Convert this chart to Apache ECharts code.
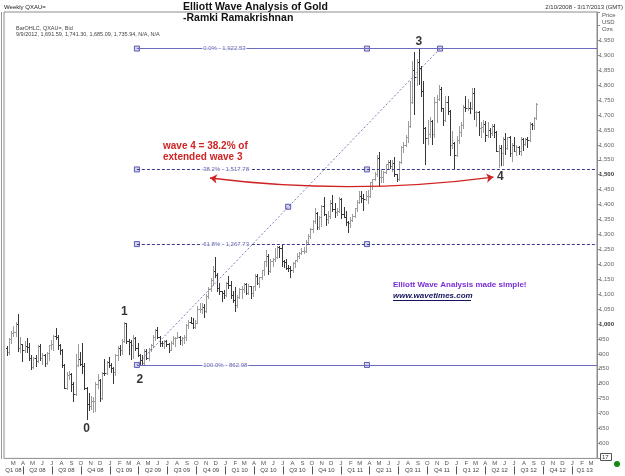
<!DOCTYPE html>
<html>
<head>
<meta charset="utf-8">
<script src="https://cdn.jsdelivr.net/npm/echarts@6/dist/echarts.min.js"></script>
<style>
  html, body { margin: 0; padding: 0; background: #fff; }
  #chart { width: 625px; height: 476px; }
</style>
</head>
<body>
<div id="chart"></div>
<script>
// weekly bars [open, high, low, close], one per week from firstWeek
const firstWeek = '2008-02-10';
const bars2008 = [
  [920, 928, 895, 906], [906, 953, 900, 949], [949, 976, 937, 971], [971, 993, 961, 972],
  [972, 1006, 960, 1001], [1001, 1032, 911, 920], [920, 958, 907, 932], [932, 934, 875, 913],
  [913, 943, 906, 925], [925, 954, 905, 924], [924, 937, 880, 886], [886, 895, 851, 856],
  [856, 889, 853, 886], [886, 895, 858, 877], [877, 930, 873, 925], [925, 932, 878, 886],
  [886, 903, 866, 897], [897, 899, 860, 870], [870, 908, 867, 904], [904, 931, 880, 929],
  [929, 945, 917, 932], [932, 964, 914, 960], [960, 988, 949, 958], [958, 962, 918, 930],
  [930, 932, 900, 912], [912, 915, 855, 864], [864, 866, 786, 787], [787, 838, 781, 830],
  [830, 844, 817, 833], [833, 835, 775, 799], [799, 806, 741, 765], [765, 900, 763, 863],
  [863, 932, 858, 884], [884, 906, 862, 865], [865, 936, 835, 860], [860, 868, 782, 786],
  [786, 790, 681, 733], [733, 769, 712, 725], [725, 760, 715, 741], [741, 754, 706, 742],
  [742, 805, 710, 800], [800, 831, 786, 814], [814, 816, 741, 752], [752, 840, 750, 837],
  [837, 882, 830, 836], [836, 876, 832, 874], [874, 888, 857, 863]
];
const bars2009 = [
  [863, 868, 838, 853], [853, 856, 802, 838], [838, 900, 829, 897], [897, 927, 878, 919],
  [919, 929, 895, 913], [913, 950, 900, 943], [943, 1007, 940, 1002], [1002, 1005, 935, 942],
  [942, 950, 901, 940], [940, 945, 883, 930], [930, 963, 885, 953], [953, 958, 912, 920],
  [920, 935, 892, 895], [895, 898, 865, 880], [880, 897, 866, 870], [870, 918, 865, 910],
  [910, 918, 884, 886], [886, 921, 880, 916], [916, 933, 910, 930], [930, 962, 922, 955],
  [955, 982, 945, 979], [979, 990, 954, 958], [958, 961, 925, 937], [937, 944, 925, 935],
  [935, 945, 920, 942], [942, 946, 925, 933], [933, 935, 905, 913], [913, 942, 912, 938],
  [938, 960, 934, 953], [953, 958, 926, 954], [954, 972, 952, 956], [956, 959, 933, 947],
  [947, 956, 930, 952], [952, 964, 935, 955], [955, 1000, 948, 996], [996, 1012, 987, 1006],
  [1006, 1025, 1002, 1003], [1003, 1019, 987, 991], [991, 1012, 986, 1004], [1004, 1062, 1003, 1050],
  [1050, 1070, 1041, 1051], [1051, 1070, 1036, 1056], [1056, 1066, 1023, 1045], [1045, 1100, 1040, 1095],
  [1095, 1123, 1087, 1118], [1118, 1154, 1112, 1146], [1146, 1196, 1132, 1176], [1176, 1226, 1159, 1163],
  [1163, 1170, 1112, 1120], [1120, 1138, 1102, 1110], [1110, 1112, 1076, 1105], [1105, 1113, 1087, 1096]
];
const bars2010 = [
  [1096, 1140, 1094, 1138], [1138, 1162, 1120, 1131], [1131, 1144, 1086, 1098], [1098, 1110, 1074, 1081],
  [1081, 1123, 1045, 1064], [1064, 1098, 1058, 1092], [1092, 1122, 1086, 1118], [1118, 1127, 1087, 1118],
  [1118, 1138, 1108, 1134], [1134, 1137, 1102, 1104], [1104, 1133, 1100, 1126], [1126, 1128, 1088, 1104],
  [1104, 1128, 1095, 1126], [1126, 1166, 1113, 1161], [1161, 1169, 1133, 1137], [1137, 1159, 1125, 1156],
  [1156, 1181, 1150, 1180], [1180, 1212, 1165, 1210], [1210, 1249, 1196, 1228], [1228, 1235, 1166, 1177],
  [1177, 1217, 1175, 1212], [1212, 1222, 1195, 1217], [1217, 1254, 1210, 1226], [1226, 1263, 1221, 1258],
  [1258, 1261, 1224, 1256], [1256, 1265, 1195, 1210], [1210, 1215, 1190, 1208], [1208, 1218, 1185, 1189],
  [1189, 1199, 1176, 1188], [1188, 1195, 1157, 1181], [1181, 1208, 1175, 1203], [1203, 1216, 1192, 1215],
  [1215, 1237, 1212, 1228], [1228, 1242, 1222, 1237], [1237, 1253, 1234, 1246], [1246, 1258, 1239, 1246],
  [1246, 1283, 1240, 1275], [1275, 1302, 1270, 1296], [1296, 1320, 1289, 1318], [1318, 1350, 1308, 1345],
  [1345, 1387, 1340, 1372], [1372, 1374, 1319, 1325], [1325, 1361, 1319, 1358], [1358, 1398, 1329, 1394],
  [1394, 1424, 1364, 1368], [1368, 1370, 1330, 1353], [1353, 1379, 1339, 1362], [1362, 1414, 1356, 1406],
  [1406, 1431, 1378, 1385], [1385, 1407, 1357, 1375], [1375, 1389, 1365, 1380], [1380, 1424, 1375, 1420]
];
const bars2011 = [
  [1420, 1423, 1355, 1369], [1369, 1393, 1359, 1360], [1360, 1378, 1330, 1342], [1342, 1345, 1309, 1340],
  [1340, 1360, 1326, 1349], [1349, 1368, 1344, 1361], [1361, 1390, 1357, 1388], [1388, 1415, 1380, 1409],
  [1409, 1445, 1405, 1428], [1428, 1444, 1408, 1421], [1421, 1437, 1381, 1418], [1418, 1447, 1416, 1429],
  [1429, 1448, 1407, 1429], [1429, 1476, 1425, 1475], [1475, 1487, 1453, 1486], [1486, 1510, 1483, 1504],
  [1504, 1566, 1496, 1556], [1556, 1575, 1462, 1491], [1491, 1520, 1476, 1492], [1492, 1513, 1477, 1510],
  [1510, 1537, 1506, 1536], [1536, 1549, 1522, 1542], [1542, 1549, 1522, 1529], [1529, 1549, 1511, 1540],
  [1540, 1558, 1496, 1502], [1502, 1503, 1478, 1486], [1486, 1545, 1484, 1542], [1542, 1595, 1540, 1592],
  [1592, 1610, 1576, 1601], [1601, 1632, 1597, 1628], [1628, 1681, 1610, 1663], [1663, 1814, 1660, 1743],
  [1743, 1881, 1739, 1852], [1852, 1912, 1705, 1828], [1828, 1886, 1801, 1876], [1876, 1921, 1804, 1857],
  [1857, 1863, 1765, 1780], [1780, 1813, 1605, 1657], [1657, 1660, 1535, 1622], [1622, 1682, 1603, 1635],
  [1635, 1695, 1627, 1680], [1680, 1683, 1603, 1637], [1637, 1761, 1626, 1745], [1745, 1766, 1676, 1753],
  [1753, 1802, 1749, 1788], [1788, 1795, 1714, 1724], [1724, 1725, 1667, 1683], [1683, 1764, 1680, 1745],
  [1745, 1764, 1703, 1713], [1713, 1718, 1565, 1598], [1598, 1645, 1590, 1606], [1606, 1608, 1523, 1565]
];
const bars2012 = [
  [1565, 1630, 1564, 1617], [1617, 1662, 1606, 1642], [1642, 1675, 1629, 1665], [1665, 1734, 1658, 1727],
  [1727, 1763, 1713, 1725], [1725, 1753, 1717, 1725], [1725, 1744, 1706, 1723], [1723, 1790, 1720, 1775],
  [1775, 1792, 1688, 1710], [1710, 1714, 1664, 1711], [1711, 1713, 1634, 1657], [1657, 1675, 1627, 1660],
  [1660, 1682, 1644, 1669], [1669, 1680, 1612, 1632], [1632, 1677, 1628, 1651], [1651, 1658, 1626, 1641],
  [1641, 1669, 1634, 1663], [1663, 1670, 1625, 1643], [1643, 1645, 1578, 1580], [1580, 1598, 1527, 1591],
  [1591, 1600, 1533, 1572], [1572, 1628, 1532, 1621], [1621, 1640, 1570, 1590], [1590, 1628, 1587, 1627],
  [1627, 1630, 1562, 1573], [1573, 1605, 1547, 1601], [1601, 1627, 1578, 1581], [1581, 1600, 1566, 1592],
  [1592, 1596, 1569, 1580], [1580, 1628, 1565, 1620], [1620, 1624, 1582, 1603], [1603, 1624, 1598, 1619],
  [1619, 1625, 1592, 1616], [1616, 1675, 1612, 1671], [1671, 1674, 1653, 1666], [1666, 1692, 1652, 1691.59],
  [1691.59, 1741.30, 1685.09, 1735.94]
];

// axis range and tick labels
const axisStart = '2008-02-01';
const axisEnd = '2013-03-20';
const monthLetters = ['J', 'F', 'M', 'A', 'M', 'J', 'J', 'A', 'S', 'O', 'N', 'D'];
const quarterLabels = [
  'Q1 08', 'Q2 08', 'Q3 08', 'Q4 08', 'Q1 09', 'Q2 09', 'Q3 09', 'Q4 09',
  'Q1 10', 'Q2 10', 'Q3 10', 'Q4 10', 'Q1 11', 'Q2 11', 'Q3 11', 'Q4 11',
  'Q1 12', 'Q2 12', 'Q3 12', 'Q4 12', 'Q1 13'
];
const priceMin = 550, priceMax = 2045, priceStep = 50;

// fibonacci retracement drawing
const fibPercents = ['0.0%', '38.2%', '61.8%', '100.0%'];
const fibPrices = [1922.53, 1517.78, 1267.73, 862.98];
const fibFrom = '2009-03-27';
const fibMid = '2011-03-24';
const fibLabelAt = '2009-10-18';
const trendFrom = ['2009-03-27', 862.98];
const trendMid = ['2010-07-18', 1392.75];
const trendTo = ['2011-11-10', 1922.53];

// elliott wave counts
const waveNames = ['0', '1', '2', '3', '4'];
const wavePoints = [['2008-10-19', 681], ['2009-02-15', 1007], ['2009-04-05', 865], ['2011-09-04', 1921], ['2012-04-27', 1492]];
const arrowEnds = [['2009-11-13', 1489], ['2012-04-27', 1492]];

const DAY = 86400000;
const toTime = s => {
  const p = s.split('-').map(Number);
  return Date.UTC(p[0], p[1] - 1, p[2]);
};

const weeklyBars = bars2008.concat(bars2009, bars2010, bars2011, bars2012);
const weeklyData = weeklyBars.map((b, i) => [toTime(firstWeek) + i * 7 * DAY, b[0], b[1], b[2], b[3]]);

const monthStarts = [];
for (let y = 2008; y <= 2013; y++) {
  for (let m = 0; m < 12; m++) {
    const v = Date.UTC(y, m, 1);
    if (v > toTime(axisStart) && v < toTime(axisEnd)) monthStarts.push(v);
  }
}
const quarterStarts = monthStarts.filter(v => new Date(v).getUTCMonth() % 3 === 0);
const bounds = [toTime(axisStart)].concat(quarterStarts, [toTime(axisEnd)]);
const quarterMids = quarterLabels.map((_, i) => Math.round((bounds[i] + bounds[i + 1]) / 2));

const font = 'Liberation Sans, Arial, sans-serif';
const fmtPrice = v => {
  const s = String(v);
  return s.length > 3 ? s.slice(0, s.length - 3) + ',' + s.slice(-3) : s;
};
const fmtFib = v => v.toLocaleString('en-US', { minimumFractionDigits: 2 });
const hidden = 'rgba(0,0,0,0)';

function renderOhlc(params, api) {
  const t = api.value(0);
  const x = Math.round(api.coord([t, 0])[0]) + 0.5;
  const py = v => Math.round(api.coord([t, v])[1]) + 0.5;
  const up = api.value(4) >= api.value(1);
  const style = { stroke: up ? '#9c9c9c' : '#383838', lineWidth: 1 };
  return {
    type: 'group',
    children: [
      { type: 'line', shape: { x1: x, y1: py(api.value(2)) - 0.5, x2: x, y2: py(api.value(3)) + 0.5 }, style: style },
      { type: 'line', shape: { x1: x - 1.5, y1: py(api.value(1)), x2: x, y2: py(api.value(1)) }, style: style },
      { type: 'line', shape: { x1: x, y1: py(api.value(4)), x2: x + 1.5, y2: py(api.value(4)) }, style: style }
    ]
  };
}

const dom = document.getElementById('chart');
const myChart = echarts.init(dom, null, { renderer: 'canvas' });

const fibLines = fibPrices.map((p, i) => {
  const solid = i === 0 || i === 3;
  return [
    {
      coord: [toTime(fibFrom), p],
      lineStyle: { color: solid ? '#6a6abf' : '#3a3a8c', width: 1, type: solid ? 'solid' : [3, 2] }
    },
    { coord: [toTime(axisEnd), p] }
  ];
});
fibLines.push([
  { coord: [toTime(trendFrom[0]), trendFrom[1]], lineStyle: { color: '#5a5aa8', width: 0.8, type: [2, 2] } },
  { coord: [toTime(trendTo[0]), trendTo[1]] }
]);

const squarePoints = [];
fibPrices.forEach(p => {
  squarePoints.push([toTime(fibFrom), p]);
  squarePoints.push([toTime(fibMid), p]);
});
squarePoints.push([toTime(trendMid[0]), trendMid[1]]);
squarePoints.push([toTime(trendTo[0]), trendTo[1]]);

const waveLabelPos = [
  { position: 'bottom', distance: 3 },
  { position: 'top', distance: 4 },
  { position: 'bottom', distance: 9 },
  { position: 'top', distance: 1 },
  { position: 'right', distance: 3 }
];

const option = {
  animation: false,
  backgroundColor: '#fff',
  textStyle: { fontFamily: font },
  grid: {
    left: 4, right: 28, top: 12, bottom: 17.6,
    show: true, borderColor: '#8c8c8c', borderWidth: 1, backgroundColor: '#fff'
  },
  xAxis: [
    {
      type: 'value',
      min: toTime(axisStart),
      max: toTime(axisEnd),
      axisLine: { show: false },
      axisTick: { show: false },
      splitLine: { show: false },
      axisLabel: {
        customValues: monthStarts,
        margin: 2,
        fontSize: 6,
        color: '#555',
        formatter: v => monthLetters[new Date(v).getUTCMonth()]
      }
    },
    {
      type: 'value',
      position: 'bottom',
      offset: 8,
      min: toTime(axisStart),
      max: toTime(axisEnd),
      axisLine: { show: false },
      axisTick: { show: true, customValues: quarterStarts, length: 8, lineStyle: { color: '#555' } },
      splitLine: { show: false },
      axisLabel: {
        customValues: quarterMids,
        margin: 1,
        fontSize: 6,
        color: '#444',
        formatter: v => {
          const i = quarterMids.indexOf(v);
          return i >= 0 ? quarterLabels[i] : '';
        }
      }
    }
  ],
  yAxis: {
    type: 'value',
    position: 'right',
    min: priceMin,
    max: priceMax,
    interval: priceStep,
    axisLine: { show: true, lineStyle: { color: '#8c8c8c' } },
    axisTick: { show: true, length: 3, lineStyle: { color: '#8c8c8c' } },
    splitLine: { show: false },
    axisLabel: {
      margin: 2,
      fontSize: 6,
      color: '#666',
      formatter: v => {
        if (v < 600 || v > 1950) return '';
        return v === 1000 || v === 1500 ? '{b|' + fmtPrice(v) + '}' : fmtPrice(v);
      },
      rich: { b: { fontSize: 6, fontWeight: 'bold', color: '#333' } }
    }
  },
  series: [
    {
      type: 'custom',
      name: 'QXAU=',
      renderItem: renderOhlc,
      encode: { x: 0, y: [1, 2, 3, 4] },
      data: weeklyData,
      z: 2
    },
    {
      type: 'scatter',
      symbol: 'rect',
      symbolSize: 5,
      itemStyle: { color: '#c9c9ee', borderColor: '#3a3a9c', borderWidth: 1 },
      data: squarePoints,
      z: 4,
      markLine: {
        silent: true,
        symbol: 'none',
        label: { show: false },
        data: fibLines
      }
    },
    {
      type: 'scatter',
      symbolSize: 1,
      itemStyle: { color: hidden },
      data: fibPrices.map(p => [toTime(fibLabelAt), p]),
      label: {
        show: true,
        position: 'right',
        distance: 0,
        fontSize: 6,
        color: '#4040a0',
        backgroundColor: '#fff',
        padding: [0, 1],
        formatter: p => fibPercents[p.dataIndex] + ' - ' + fmtFib(fibPrices[p.dataIndex])
      },
      z: 5
    },
    {
      type: 'lines',
      coordinateSystem: 'cartesian2d',
      symbol: ['arrow', 'arrow'],
      symbolSize: 7,
      lineStyle: { color: '#d02424', width: 1.4, opacity: 1, curveness: -0.064 },
      data: [{ coords: [[toTime(arrowEnds[0][0]), arrowEnds[0][1]], [toTime(arrowEnds[1][0]), arrowEnds[1][1]]] }],
      z: 6
    },
    {
      type: 'scatter',
      symbolSize: 1,
      itemStyle: { color: hidden },
      data: wavePoints.map((w, i) => ({ value: [toTime(w[0]), w[1]], label: waveLabelPos[i] })),
      label: {
        show: true,
        fontSize: 12,
        fontWeight: 'bold',
        color: '#000',
        textBorderWidth: 0,
        formatter: p => waveNames[p.dataIndex]
      },
      z: 7
    }
  ],
  graphic: [
    { type: 'line', shape: { x1: 1.5, y1: 12, x2: 1.5, y2: 459 }, style: { stroke: '#9a9a9a', lineWidth: 1 } },
    { type: 'text', left: 4, top: 4, style: { text: 'Weekly QXAU=', font: '6px ' + font, fill: '#222' } },
    { type: 'text', left: 183, top: 2, style: { text: 'Elliott Wave Analysis of Gold', font: 'bold 10.5px ' + font, fill: '#111' } },
    { type: 'text', left: 183, top: 13, style: { text: '-Ramki Ramakrishnan', font: 'bold 10.5px ' + font, fill: '#111' } },
    { type: 'text', right: 2, top: 4, style: { text: '2/10/2008 - 3/17/2013 (GMT)', font: '6px ' + font, fill: '#333' } },
    { type: 'text', left: 16, top: 25, style: { text: 'BarOHLC, QXAU=, Bid', font: '5.5px ' + font, fill: '#444' } },
    { type: 'text', left: 16, top: 31, style: { text: '9/9/2012, 1,691.59, 1,741.30, 1,685.09, 1,735.94, N/A, N/A', font: '5.5px ' + font, fill: '#444' } },
    { type: 'text', left: 602, top: 12, style: { text: 'Price', font: '6px ' + font, fill: '#555' } },
    { type: 'text', left: 602, top: 19, style: { text: 'USD', font: '6px ' + font, fill: '#555' } },
    { type: 'text', left: 602, top: 26, style: { text: 'Ozs', font: '6px ' + font, fill: '#555' } },
    { type: 'text', left: 163, top: 141, style: { text: 'wave 4 = 38.2% of', font: 'bold 10px ' + font, fill: '#d02424' } },
    { type: 'text', left: 163, top: 152, style: { text: 'extended wave 3', font: 'bold 10px ' + font, fill: '#d02424' } },
    { type: 'text', left: 393, top: 281, style: { text: 'Elliott Wave Analysis made simple!', font: 'bold 8px ' + font, fill: '#7a2fd6' } },
    { type: 'text', left: 393, top: 292, style: { text: 'www.wavetimes.com', font: 'italic bold 8px ' + font, fill: '#14145e' } },
    { type: 'line', shape: { x1: 393, y1: 300.5, x2: 471, y2: 300.5 }, style: { stroke: '#14145e', lineWidth: 1 } },
    { type: 'rect', shape: { x: 600.5, y: 453.5, width: 11, height: 7 }, style: { fill: '#fff', stroke: '#555', lineWidth: 1 } },
    { type: 'text', left: 602, top: 454, style: { text: '17', font: '6px ' + font, fill: '#333' } },
    { type: 'circle', shape: { cx: 617, cy: 464, r: 3 }, style: { fill: '#138a13' } }
  ]
};

myChart.setOption(option);

window.addEventListener('resize', () => myChart.resize());
</script>
</body>
</html>
